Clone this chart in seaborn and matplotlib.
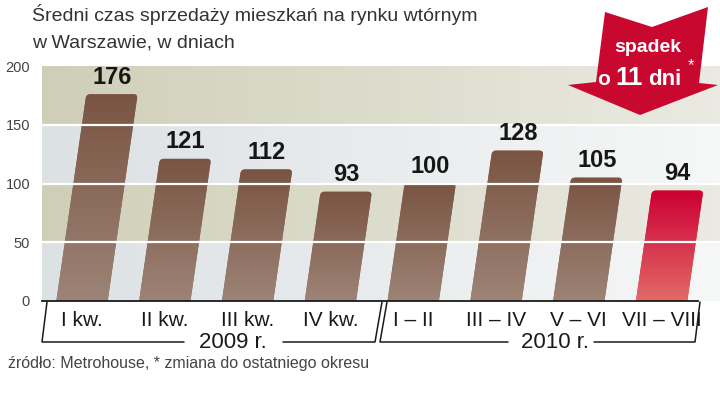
import numpy as np
import matplotlib
matplotlib.use('Agg')
import matplotlib.pyplot as plt
import seaborn as sns
import pandas as pd
from matplotlib.patches import FancyBboxPatch, Polygon
from matplotlib.transforms import Affine2D
from matplotlib.colors import to_rgb
from matplotlib.lines import Line2D

# ---- data ----
categories = ["I kw.", "II kw.", "III kw.", "IV kw.", "I – II", "III – IV", "V – VI", "VII – VIII"]
values = [176, 121, 112, 93, 100, 128, 105, 94]
years = ["2009 r.", "2010 r."]
yticks = [0, 50, 100, 150, 200]
title_lines = ["Średni czas sprzedaży mieszkań na rynku wtórnym", "w Warszawie, w dniach"]
source = "źródło: Metrohouse, * zmiana do ostatniego okresu"
badge_top = "spadek"
badge_o, badge_num, badge_unit, badge_star = "o", "11", "dni", "*"

sns.set_theme(style="white")
plt.rcParams['font.family'] = ['Liberation Sans', 'DejaVu Sans']
NARROW = ['Liberation Sans Narrow', 'Liberation Sans', 'DejaVu Sans']

W, H = 720, 395
fig = plt.figure(figsize=(7.2, 3.95), dpi=100)
fig.patch.set_facecolor('white')
ax = fig.add_axes([42 / W, (H - 301) / H, 678 / W, 235 / H])

df = pd.DataFrame({"cat": categories, "val": values})
base_cols = ["#8a6a5a"] * 7 + ["#d42a40"]
sns.barplot(data=df, x="cat", y="val", hue="cat", palette=base_cols, width=0.62,
            ax=ax, legend=False, saturation=1)

x_c0, x_step = 82.0, 82.8
xlim = ((42 - x_c0) / x_step, (720 - x_c0) / x_step)
ax.set_xlim(*xlim)
ax.set_ylim(0, 200)
ax.set_xlabel("")
ax.set_ylabel("")

# background bands with horizontal fade
ncol = 256
t = np.linspace(0, 1, ncol)[None, :, None]
olive_l, olive_r = np.array(to_rgb("#cfcfb8")), np.array(to_rgb("#eaeae2"))
light_l, light_r = np.array(to_rgb("#dce1e4")), np.array(to_rgb("#f6f7f7"))
olive = olive_l + (olive_r - olive_l) * t
light = light_l + (light_r - light_l) * t
rows = []
for r in range(200):
    band = r // 50
    rows.append(olive[0] if band % 2 == 1 else light[0])
bg = np.stack(rows, axis=0)
ax.imshow(bg, extent=[xlim[0], xlim[1], 0, 200], aspect='auto', origin='lower',
          interpolation='nearest', zorder=0)
ax.set_xlim(*xlim)
ax.set_ylim(0, 200)

# skew transform (display space)
y0 = ax.transData.transform((0, 0))[1]
k = 0.145
skew = ax.transData + Affine2D().translate(0, -y0).skew(np.arctan(k), 0).translate(0, y0)
px_x = ax.transData.transform((1, 0))[0] - ax.transData.transform((0, 0))[0]
px_y = ax.transData.transform((0, 1))[1] - ax.transData.transform((0, 0))[1]
aspect = px_x / px_y

top_cols = ["#7a5443"] * 7 + ["#cc0033"]
bot_cols = ["#9d8476"] * 7 + ["#e26a68"]

bars = list(ax.patches)
for i, p in enumerate(bars):
    x, w, h = p.get_x(), p.get_width(), p.get_height()
    p.remove()
    r = 4.0 / px_x
    fb = FancyBboxPatch((x, -6), w, h + 6,
                        boxstyle=f"round,pad=0,rounding_size={r}",
                        mutation_aspect=aspect, transform=skew,
                        facecolor=base_cols[i], edgecolor='none', zorder=2)
    ax.add_patch(fb)
    g = np.linspace(0, 1, 128)[:, None, None]
    c0, c1 = np.array(to_rgb(bot_cols[i])), np.array(to_rgb(top_cols[i]))
    grad = c0 + (c1 - c0) * g
    im = ax.imshow(grad, extent=[x - 0.2, x + w + 0.6, 0, h], aspect='auto',
                   origin='lower', interpolation='bilinear', zorder=3)
    im.set_clip_path(fb)
    ax.annotate(str(values[i]), xy=(x + w / 2, h), xycoords=skew,
                xytext=(0, 4), textcoords='offset points', ha='center', va='bottom',
                fontsize=17, fontweight='bold', color='#161616', zorder=6)

ax.set_xlim(*xlim)
ax.set_ylim(0, 200)

for yv in [50, 100, 150]:
    ax.axhline(yv, color='white', lw=1.6, zorder=5)

for s in ['top', 'right', 'left']:
    ax.spines[s].set_visible(False)
ax.spines['bottom'].set_bounds(xlim[0], (698 - x_c0) / x_step)
ax.spines['bottom'].set_color('#1a1a1a')
ax.spines['bottom'].set_linewidth(1.3)
ax.spines['bottom'].set_zorder(7)

ax.set_yticks(yticks)
ax.set_yticklabels([str(v) for v in yticks])
ax.tick_params(axis='y', length=0, pad=8.6, labelsize=10.5, labelcolor='#444444')
ax.tick_params(axis='x', length=0, pad=7.5, labelsize=15, labelcolor='#1a1a1a')
for lab in ax.get_xticklabels():
    lab.set_fontfamily(NARROW)
ax.grid(False)

# ---- decorations in pixel coordinates ----
def P(x, y):
    return (x / W, 1 - y / H)

def line(pts, **kw):
    xs = [P(*q)[0] for q in pts]
    ys = [P(*q)[1] for q in pts]
    fig.add_artist(Line2D(xs, ys, transform=fig.transFigure, color='#1a1a1a', lw=1.1, **kw))

line([(47, 302), (42, 342), (184, 342)])
line([(283, 342), (375, 342), (382, 302)])
line([(387, 302), (380, 342), (508, 342)])
line([(594, 342), (695, 342), (700, 302)])
fig.text(*P(233, 342), years[0], ha='center', va='center', fontsize=16,
         color='#1a1a1a', family=NARROW)
fig.text(*P(555, 342), years[1], ha='center', va='center', fontsize=16,
         color='#1a1a1a', family=NARROW)

fig.text(*P(32, 21), title_lines[0], ha='left', va='baseline', fontsize=14,
         color='#333333', family=NARROW)
fig.text(*P(32, 47), title_lines[1], ha='left', va='baseline', fontsize=14,
         color='#333333', family=NARROW)

fig.text(*P(8, 368), source, ha='left', va='baseline', fontsize=11.5,
         color='#444444', family=NARROW)

# red arrow badge
arrow_px = [(605, 12), (652, 27), (708, 7), (699, 83), (718, 85), (640, 115),
            (568, 85), (596, 82)]
fig.add_artist(Polygon([P(*q) for q in arrow_px], closed=True, transform=fig.transFigure,
                       facecolor='#c8082f', edgecolor='none', zorder=8))
fig.text(*P(648, 52), badge_top, ha='center', va='baseline', fontsize=14,
         fontweight='bold', color='white', zorder=9)
fig.text(*P(604, 85), badge_o, ha='center', va='baseline', fontsize=15,
         fontweight='bold', color='white', zorder=9)
fig.text(*P(629, 85), badge_num, ha='center', va='baseline', fontsize=18.5,
         fontweight='bold', color='white', zorder=9)
fig.text(*P(665, 85), badge_unit, ha='center', va='baseline', fontsize=16,
         fontweight='bold', color='white', zorder=9)
fig.text(*P(691, 70), badge_star, ha='center', va='baseline', fontsize=12,
         color='white', zorder=9)

fig.savefig("out.png", dpi=100)
